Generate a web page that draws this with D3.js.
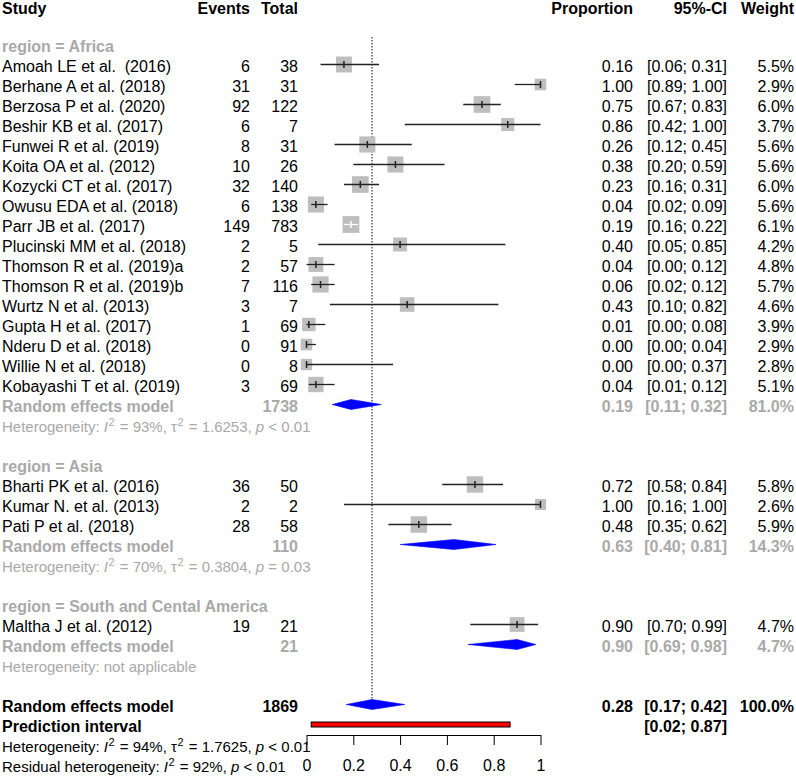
<!DOCTYPE html>
<html><head><meta charset="utf-8">
<script src="https://cdn.jsdelivr.net/npm/d3@7"></script>
<style>
body{margin:0;background:#fff}
text{font-family:"Liberation Sans",Arial,Helvetica,sans-serif}
</style>
</head><body>
<svg id="chart" width="796" height="776"></svg>
<script>
// ---------- data ----------
const regionNames = ["Africa", "Asia", "South and Cental America"];
const studyLabels = [
  "Amoah LE et al.  (2016)", "Berhane A et al. (2018)", "Berzosa P et al. (2020)", "Beshir KB et al. (2017)",
  "Funwei R et al. (2019)", "Koita OA et al. (2012)", "Kozycki CT et al. (2017)", "Owusu EDA et al. (2018)",
  "Parr JB et al. (2017)", "Plucinski MM et al. (2018)", "Thomson R et al. (2019)a", "Thomson R et al. (2019)b",
  "Wurtz N et al. (2013)", "Gupta H et al. (2017)", "Nderu D et al. (2018)", "Willie N et al. (2018)",
  "Kobayashi T et al. (2019)",
  "Bharti PK et al. (2016)", "Kumar N. et al. (2013)", "Pati P et al. (2018)",
  "Maltha J et al. (2012)"
];
const studyRegion = [0,0,0,0,0,0,0,0,0,0,0,0,0,0,0,0,0, 1,1,1, 2];
const events  = [6,31,92,6,8,10,32,6,149,2,2,7,3,1,0,0,3, 36,2,28, 19];
const totals  = [38,31,122,7,31,26,140,138,783,5,57,116,7,69,91,8,69, 50,2,58, 21];
const proportions = [0.16,1.00,0.75,0.86,0.26,0.38,0.23,0.04,0.19,0.40,0.04,0.06,0.43,0.01,0.00,0.00,0.04, 0.72,1.00,0.48, 0.90];
const ciLower = [0.06,0.89,0.67,0.42,0.12,0.20,0.16,0.02,0.16,0.05,0.00,0.02,0.10,0.00,0.00,0.00,0.01, 0.58,0.16,0.35, 0.70];
const ciUpper = [0.31,1.00,0.83,1.00,0.45,0.59,0.31,0.09,0.22,0.85,0.12,0.12,0.82,0.08,0.04,0.37,0.12, 0.84,1.00,0.62, 0.99];
const weights = [5.5,2.9,6.0,3.7,5.6,5.6,6.0,5.6,6.1,4.2,4.8,5.7,4.6,3.9,2.9,2.8,5.1, 5.8,2.6,5.9, 4.7];

const regionTotals = [1738, 110, 21];
const regionEst = [0.19, 0.63, 0.90];
const regionLower = [0.11, 0.40, 0.69];
const regionUpper = [0.32, 0.81, 0.98];
const regionWeight = [81.0, 14.3, 4.7];
const regionI2 = ["93%", "70%", null];
const regionTau2 = ["1.6253", "0.3804", null];
const regionP = ["< 0.01", "= 0.03", null];

const overallTotal = 1869;
const overallEst = 0.28, overallLower = 0.17, overallUpper = 0.42, overallWeight = 100.0;
const predLower = 0.02, predUpper = 0.87;
const overallI2 = "94%", overallTau2 = "1.7625", overallP = "< 0.01";
const residualI2 = "92%", residualP = "< 0.01";
const axisTicks = [0, 0.2, 0.4, 0.6, 0.8, 1];

// ---------- layout ----------
const svg = d3.select("#chart");
const rowY = i => 6 + 20 * i;
const gOff = -1.5;           // graphics offset from text row centre
const x = d3.scaleLinear().domain([0, 1]).range([306.5, 540.5]);
const col = {study: 2, events: 250, total: 298, prop: 633, ci: 727, weight: 794};
const fmt2 = d3.format(".2f"), fmtW = d3.format(".1f");
const GRAY = "#a9a9a9";
const FS = 16, FSH = 15;

const gText = svg.append("g");
const gMarks = svg.append("g");

function txt(xp, y, s, o = {}) {
  return gText.append("text")
    .attr("x", xp).attr("y", y + 6)
    .attr("text-anchor", o.anchor || "start")
    .attr("font-size", o.size || FS)
    .attr("font-weight", o.bold ? "bold" : "normal")
    .attr("fill", o.color || "#000")
    .attr("xml:space", "preserve")
    .style("white-space", "pre")
    .text(s);
}
function hetText(y, parts, color) {
  const t = gText.append("text").attr("x", col.study).attr("y", y + 5.5)
    .attr("font-size", FSH).attr("fill", color).style("white-space", "pre");
  parts.forEach(p => {
    const ts = t.append("tspan").text(p.s);
    if (p.it) ts.attr("font-style", "italic");
    if (p.sup) ts.attr("font-size", 11).attr("dy", -6).attr("dx", 0.5);
    if (p.down) ts.attr("dy", 6).attr("dx", 1);
  });
}
function hetParts(prefix, I2, tau2, p) {
  const a = [{s: prefix}, {s: "I", it: true}, {s: "2", sup: true}, {s: " = " + I2 + ", ", down: true}];
  if (tau2 !== null) a.push({s: "\u03c4"}, {s: "2", sup: true}, {s: " = " + tau2 + ", ", down: true});
  a.push({s: "p", it: true}, {s: " " + p});
  return a;
}
function diamond(est, lo, hi, y, h) {
  const pts = [[x(lo), y], [x(est), y - h], [x(hi), y], [x(est), y + h]];
  gMarks.append("polygon").attr("points", pts.map(p => p.join(",")).join(" "))
    .attr("fill", "#0000ff").attr("stroke", "#0000ff").attr("stroke-width", 0.6);
}

// header
const hy = 8;
txt(col.study, hy, "Study", {bold: true});
txt(col.events, hy, "Events", {bold: true, anchor: "end"});
txt(col.total, hy, "Total", {bold: true, anchor: "end"});
txt(col.prop, hy, "Proportion", {bold: true, anchor: "end"});
txt(col.ci, hy, "95%-CI", {bold: true, anchor: "end"});
txt(col.weight, hy, "Weight", {bold: true, anchor: "end"});

// reference line (behind marks)
let row = 2;
const refLine = gMarks.append("line")
  .attr("x1", x(overallEst)).attr("x2", x(overallEst))
  .attr("y1", 37)
  .attr("stroke", "#333").attr("stroke-width", 1.2).attr("stroke-dasharray", "1.5,1.5");

regionNames.forEach((rn, r) => {
  txt(col.study, rowY(row), "region = " + rn, {bold: true, color: GRAY});
  row++;
  studyLabels.forEach((lab, i) => {
    if (studyRegion[i] !== r) return;
    const y = rowY(row), gy = y + gOff;
    txt(col.study, y, lab);
    txt(col.events, y, String(events[i]), {anchor: "end"});
    txt(col.total, y, String(totals[i]), {anchor: "end"});
    txt(col.prop, y, fmt2(proportions[i]), {anchor: "end"});
    txt(col.ci, y, "[" + fmt2(ciLower[i]) + "; " + fmt2(ciUpper[i]) + "]", {anchor: "end"});
    txt(col.weight, y, fmtW(weights[i]) + "%", {anchor: "end"});
    const side = 6.8 * Math.sqrt(weights[i]);
    const cx = x(proportions[i]);
    gMarks.append("rect").attr("x", cx - side / 2).attr("y", gy - side / 2)
      .attr("width", side).attr("height", side).attr("fill", "#bebebe");
    const inside = x(ciLower[i]) >= cx - side / 2 && x(ciUpper[i]) <= cx + side / 2;
    const lc = inside ? "#fff" : "#222";
    gMarks.append("line").attr("x1", x(ciLower[i])).attr("x2", x(ciUpper[i]))
      .attr("y1", gy).attr("y2", gy).attr("stroke", lc).attr("stroke-width", 1.3);
    gMarks.append("line").attr("x1", cx).attr("x2", cx)
      .attr("y1", gy - 3.5).attr("y2", gy + 3.5).attr("stroke", lc).attr("stroke-width", 1.5);
    row++;
  });
  // subgroup random effects
  const y = rowY(row);
  txt(col.study, y, "Random effects model", {bold: true, color: GRAY});
  txt(col.total, y, String(regionTotals[r]), {bold: true, color: GRAY, anchor: "end"});
  txt(col.prop, y, fmt2(regionEst[r]), {bold: true, color: GRAY, anchor: "end"});
  txt(col.ci, y, "[" + fmt2(regionLower[r]) + "; " + fmt2(regionUpper[r]) + "]", {bold: true, color: GRAY, anchor: "end"});
  txt(col.weight, y, fmtW(regionWeight[r]) + "%", {bold: true, color: GRAY, anchor: "end"});
  diamond(regionEst[r], regionLower[r], regionUpper[r], y + gOff, 5);
  row++;
  if (regionI2[r] === null) hetText(rowY(row), [{s: "Heterogeneity: not applicable"}], GRAY);
  else hetText(rowY(row), hetParts("Heterogeneity: ", regionI2[r], regionTau2[r], regionP[r]), GRAY);
  row += 2;
});

// overall
let y = rowY(row);
txt(col.study, y, "Random effects model", {bold: true});
txt(col.total, y, String(overallTotal), {bold: true, anchor: "end"});
txt(col.prop, y, fmt2(overallEst), {bold: true, anchor: "end"});
txt(col.ci, y, "[" + fmt2(overallLower) + "; " + fmt2(overallUpper) + "]", {bold: true, anchor: "end"});
txt(col.weight, y, fmtW(overallWeight) + "%", {bold: true, anchor: "end"});
diamond(overallEst, overallLower, overallUpper, y + gOff, 5);
refLine.attr("y2", y + gOff - 5);
row++;
y = rowY(row);
txt(col.study, y, "Prediction interval", {bold: true});
txt(col.ci, y, "[" + fmt2(predLower) + "; " + fmt2(predUpper) + "]", {bold: true, anchor: "end"});
gMarks.append("rect").attr("x", x(predLower)).attr("y", y + gOff - 2.5)
  .attr("width", x(predUpper) - x(predLower)).attr("height", 5)
  .attr("fill", "#ff0000").attr("stroke", "#000").attr("stroke-width", 1);
row++;
hetText(rowY(row), hetParts("Heterogeneity: ", overallI2, overallTau2, overallP), "#000");
row++;
hetText(rowY(row), hetParts("Residual heterogeneity: ", residualI2, null, residualP), "#000");

// axis
const axis = d3.axisBottom(x).tickValues(axisTicks).tickFormat(d3.format(""))
  .tickSize(10).tickSizeOuter(0).tickPadding(15);
const ga = svg.append("g").attr("transform", "translate(0,735)").call(axis);
ga.select(".domain").attr("stroke", "#000").attr("stroke-width", 1);
ga.selectAll(".tick line").attr("stroke", "#000");
ga.selectAll(".tick text").attr("font-size", FS).attr("fill", "#000")
  .attr("font-family", "'Liberation Sans',Arial,sans-serif");
</script>
</body></html>
